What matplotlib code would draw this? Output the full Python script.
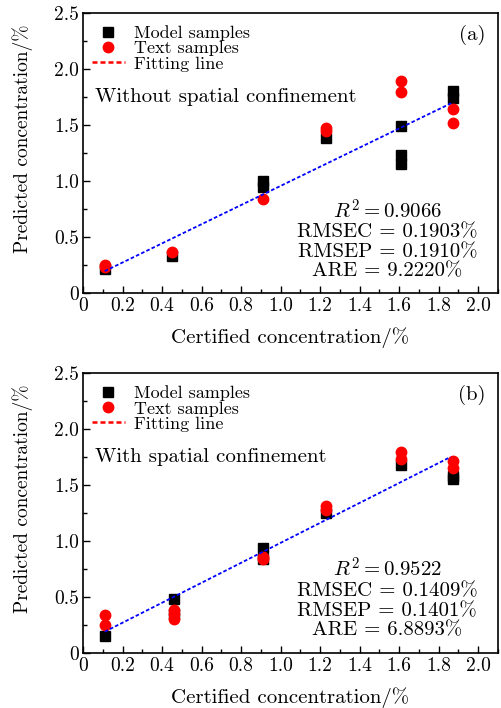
import matplotlib
matplotlib.use('Agg')
import matplotlib.pyplot as plt
from matplotlib.ticker import MultipleLocator

plt.rcParams['font.family'] = ['cmr10', 'DejaVu Serif']
plt.rcParams['mathtext.fontset'] = 'cm'
plt.rcParams['axes.formatter.use_mathtext'] = True

# panel (a): without spatial confinement
a_model_x = [0.11, 0.45, 0.91, 0.91, 1.23, 1.61, 1.61, 1.61, 1.87, 1.87]
a_model_y = [0.21, 0.33, 1.00, 0.95, 1.38, 1.49, 1.23, 1.15, 1.80, 1.74]
a_test_x = [0.11, 0.11, 0.45, 0.91, 1.23, 1.23, 1.61, 1.61, 1.87, 1.87]
a_test_y = [0.25, 0.23, 0.37, 0.84, 1.47, 1.45, 1.89, 1.79, 1.64, 1.52]
a_fit_x = [0.11, 1.87]
a_fit_y = [0.195, 1.70]

# panel (b): with spatial confinement
b_model_x = [0.11, 0.46, 0.46, 0.91, 0.91, 1.23, 1.61, 1.87, 1.87]
b_model_y = [0.155, 0.48, 0.35, 0.94, 0.84, 1.25, 1.68, 1.55, 1.58]
b_test_x = [0.11, 0.11, 0.46, 0.46, 0.46, 0.91, 0.91, 1.23, 1.23, 1.61, 1.61, 1.87, 1.87]
b_test_y = [0.34, 0.25, 0.38, 0.35, 0.30, 0.86, 0.84, 1.31, 1.28, 1.79, 1.73, 1.71, 1.65]
b_fit_x = [0.11, 1.86]
b_fit_y = [0.19, 1.75]

panels = [
    ('(a)', 'Without spatial confinement', a_model_x, a_model_y, a_test_x, a_test_y,
     a_fit_x, a_fit_y, ['$R^2 = 0.9066$', 'RMSEC = 0.1903%', 'RMSEP = 0.1910%', 'ARE = 9.2220%'], 0.48),
    ('(b)', 'With spatial confinement', b_model_x, b_model_y, b_test_x, b_test_y,
     b_fit_x, b_fit_y, ['$R^2 = 0.9522$', 'RMSEC = 0.1409%', 'RMSEP = 0.1401%', 'ARE = 6.8893%'], 0.49),
]

fig = plt.figure(figsize=(5.01, 7.08), dpi=100)
bottoms = [0.5862, 0.0777]
fs = 15

for (tag, note, mx, my, tx, ty, fx, fy, stats, sy), bot in zip(panels, bottoms):
    ax = fig.add_axes([0.1657, bot, 0.8283, 0.3955])
    ax.plot(mx, my, 's', color='black', markersize=7, markeredgecolor='black',
            linestyle='none', label='Model samples', zorder=3)
    ax.plot(tx, ty, 'o', color='red', markersize=7.5, markeredgecolor='red',
            linestyle='none', label='Text samples', zorder=4)
    ax.plot(fx, fy, linestyle=(0, (2.0, 1.2)), color='blue', linewidth=1.3, zorder=5)
    ax.plot([], [], linestyle=(0, (2.0, 1.2)), color='red', linewidth=1.8, label='Fitting line')

    ax.set_xlim(0, 2.1)
    ax.set_ylim(0, 2.5)
    ax.xaxis.set_minor_locator(MultipleLocator(0.1))
    ax.yaxis.set_minor_locator(MultipleLocator(0.25))
    ax.set_xticks([0, 0.2, 0.4, 0.6, 0.8, 1.0, 1.2, 1.4, 1.6, 1.8, 2.0])
    ax.set_xticklabels(['0', '0.2', '0.4', '0.6', '0.8', '1.0', '1.2', '1.4', '1.6', '1.8', '2.0'])
    ax.set_yticks([0, 0.5, 1.0, 1.5, 2.0, 2.5])
    ax.set_yticklabels(['0', '0.5', '1.0', '1.5', '2.0', '2.5'])
    ax.tick_params(which='both', direction='in', labelsize=14, top=False, right=False, width=1)
    ax.tick_params(which='major', length=5)
    ax.tick_params(which='minor', length=3)
    ax.tick_params(axis='x', pad=3)
    ax.tick_params(axis='y', pad=3)
    for sp in ax.spines.values():
        sp.set_linewidth(1.2)

    ax.set_xlabel('Certified concentration/%', fontsize=fs, va='center')
    ax.xaxis.set_label_coords(0.5, -0.16)
    ax.set_ylabel('Predicted concentration/%', fontsize=14, va='center')
    ax.yaxis.set_label_coords(-0.145, 0.55)

    ax.legend(loc='upper left', frameon=False, fontsize=13, handlelength=1.8,
              handletextpad=0.5, labelspacing=-0.03, borderaxespad=0, borderpad=0,
              bbox_to_anchor=(0.022, 0.955))

    ax.text(0.969, 0.92, tag, transform=ax.transAxes, fontsize=fs, ha='right', va='center')
    ax.text(0.03, 0.70, note, transform=ax.transAxes, fontsize=fs, ha='left', va='center')
    ax.text(1.54, sy, '\n'.join(stats), fontsize=fs, ha='center', va='center',
            linespacing=1.1, multialignment='center')

fig.savefig('out.png', dpi=100, facecolor='white')
